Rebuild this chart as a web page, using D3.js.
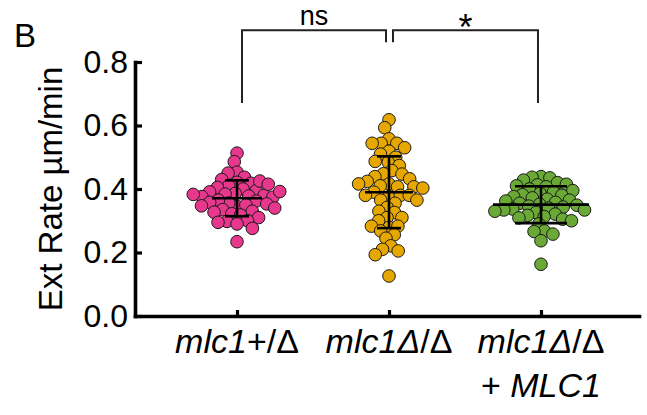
<!DOCTYPE html>
<html>
<head>
<meta charset="utf-8">
<script src="https://cdn.jsdelivr.net/npm/d3@7"></script>
<style>
  body { margin: 0; background: #fff; }
  svg { display: block; }
  text { font-family: "Liberation Sans", Arial, Helvetica, sans-serif; fill: #000; }
</style>
</head>
<body>
<svg id="chart" width="647" height="415"></svg>
<script>
// Extension rate (µm/min) per genotype
const categories = ["het", "del", "rescue"];

const heterozygoteRates = [
  0.513, 0.486, 0.453, 0.450, 0.437, 0.430, 0.421, 0.418, 0.410, 0.405,
  0.400, 0.395, 0.391, 0.386, 0.384, 0.380, 0.378, 0.376, 0.374, 0.425,
  0.345, 0.415, 0.383, 0.356, 0.392, 0.365, 0.362, 0.358, 0.353, 0.350,
  0.347, 0.340, 0.335, 0.330, 0.327, 0.322, 0.318, 0.310, 0.300, 0.298,
  0.295, 0.290, 0.276, 0.234
];

const deletionRates = [
  0.618, 0.593, 0.558, 0.544, 0.544, 0.544, 0.530, 0.519, 0.510, 0.500,
  0.484, 0.487, 0.474, 0.458, 0.448, 0.447, 0.439, 0.432, 0.416, 0.424,
  0.410, 0.407, 0.407, 0.416, 0.403, 0.390, 0.376, 0.380, 0.380, 0.380,
  0.365, 0.365, 0.355, 0.342, 0.326, 0.330, 0.310, 0.310, 0.300, 0.279,
  0.283, 0.283, 0.268, 0.256, 0.245, 0.221, 0.210, 0.205, 0.193, 0.126
];

const rescueRates = [
  0.439, 0.437, 0.435, 0.428, 0.420, 0.415, 0.413, 0.410, 0.407, 0.400,
  0.395, 0.390, 0.386, 0.382, 0.380, 0.376, 0.372, 0.368, 0.365, 0.362,
  0.358, 0.355, 0.352, 0.349, 0.346, 0.343, 0.340, 0.337, 0.334, 0.334,
  0.330, 0.326, 0.321, 0.317, 0.313, 0.309, 0.305, 0.300, 0.290, 0.268,
  0.266, 0.258, 0.237, 0.163
];

const yTicks = [0.0, 0.2, 0.4, 0.6, 0.8];
const groupColors = ["#E8388E", "#E6A700", "#6AA936"];
const comparisons = [
  { from: 0, to: 1, label: "ns" },
  { from: 1, to: 2, label: "*" }
];

const groups = [heterozygoteRates, deletionRates, rescueRates];

const svg = d3.select("#chart");

const x = d3.scalePoint()
  .domain(categories)
  .range([135, 639])
  .padding(0.658)
  .align(0.51);

const y = d3.scaleLinear()
  .domain([0, 0.8])
  .range([316, 62]);

// Beeswarm placement: each point keeps its value on y and is pushed
// sideways to the nearest free slot.
function swarm(values, spacing) {
  const placed = [];
  values.forEach(v => {
    const py = y(v);
    const near = placed.filter(p => Math.abs(p.y - py) < spacing);
    const candidates = [0];
    near.forEach(p => {
      const dx = Math.sqrt(spacing * spacing - (p.y - py) * (p.y - py));
      candidates.push(p.x + dx, p.x - dx);
    });
    candidates.sort((a, b) => Math.abs(a) - Math.abs(b) || a - b);
    const free = candidates.find(c =>
      near.every(p => (p.x - c) ** 2 + (p.y - py) ** 2 >= spacing * spacing - 1e-6)
    );
    placed.push({ x: free, y: py, v });
  });
  return placed;
}

const radius = 6.3;
const spacing = 9;

groups.forEach((vals, gi) => {
  const cx = x(categories[gi]);
  const pts = swarm(vals, spacing);
  svg.append("g")
    .selectAll("circle")
    .data(pts)
    .join("circle")
    .attr("cx", d => cx + d.x)
    .attr("cy", d => d.y)
    .attr("r", radius)
    .attr("fill", groupColors[gi])
    .attr("stroke", "#1a1a1a")
    .attr("stroke-width", 1);
});

// Mean ± SD bars
const barWidths = [
  { cap: 24, mean: 50 },
  { cap: 24, mean: 48 },
  { cap: 52, mean: 96 }
];
groups.forEach((vals, gi) => {
  const cx = x(categories[gi]);
  const m = d3.mean(vals);
  const sd = d3.deviation(vals);
  const g = svg.append("g")
    .attr("stroke", "#000")
    .attr("stroke-width", 2.6);
  const w = barWidths[gi];
  g.append("line").attr("x1", cx).attr("x2", cx).attr("y1", y(m + sd)).attr("y2", y(m - sd));
  g.append("line").attr("x1", cx - w.cap / 2).attr("x2", cx + w.cap / 2).attr("y1", y(m + sd)).attr("y2", y(m + sd));
  g.append("line").attr("x1", cx - w.cap / 2).attr("x2", cx + w.cap / 2).attr("y1", y(m - sd)).attr("y2", y(m - sd));
  g.append("line").attr("x1", cx - w.mean / 2).attr("x2", cx + w.mean / 2).attr("y1", y(m)).attr("y2", y(m));
});

// Axes
const yAxis = svg.append("g")
  .attr("transform", `translate(${x.range()[0]},0)`)
  .call(d3.axisLeft(y)
    .tickValues(yTicks)
    .tickFormat(d3.format(".1f"))
    .tickSize(-7)
    .tickSizeOuter(0)
    .tickPadding(7));

const xAxis = svg.append("g")
  .attr("transform", `translate(0,${y(0)})`)
  .call(d3.axisBottom(x)
    .tickSize(-6)
    .tickSizeOuter(0)
    .tickFormat(""));

[yAxis, xAxis].forEach(a => {
  a.select(".domain").attr("stroke", "#000").attr("stroke-width", 3.6).attr("stroke-linecap", "square");
  a.selectAll(".tick line").attr("stroke", "#000").attr("stroke-width", 3.2);
});
yAxis.selectAll(".tick text")
  .attr("font-size", 32)
  .attr("fill", "#000")
  .attr("font-family", "'Liberation Sans', Arial, sans-serif");

// Category labels
const labelParts = [
  [[{ t: "mlc1", it: true }, { t: "+/Δ", it: false }]],
  [[{ t: "mlc1Δ", it: true }, { t: "/Δ", it: false }]],
  [[{ t: "mlc1Δ", it: true }, { t: "/Δ", it: false }],
   [{ t: "+ ", it: false }, { t: "MLC1", it: true }]]
];
labelParts.forEach((lines, gi) => {
  lines.forEach((parts, li) => {
    const t = svg.append("text")
      .attr("x", x(categories[gi]))
      .attr("y", 353 + li * 44)
      .attr("text-anchor", "middle")
      .attr("font-size", 34);
    parts.forEach(p => {
      t.append("tspan").text(p.t).attr("font-style", p.it ? "italic" : "normal");
    });
  });
});

// Axis title
svg.append("text")
  .attr("transform", `translate(62,${(y(0) + y(0.8)) / 2}) rotate(-90)`)
  .attr("text-anchor", "middle")
  .attr("font-size", 33)
  .text("Ext Rate µm/min");

// Panel letter
svg.append("text")
  .attr("x", 14)
  .attr("y", 47)
  .attr("font-size", 33)
  .text("B");

// Significance brackets
const bracketTop = 0.90, legLong = 0.671, legShort = 0.862;
comparisons.forEach((c, i) => {
  const x1 = x(categories[c.from]) + (i === 0 ? 5 : 4);
  const x2 = x(categories[c.to]) - 3;
  const leftLeg = i === 0 ? legLong : legShort;
  const rightLeg = i === 0 ? legShort : legLong;
  svg.append("path")
    .attr("d", `M${x1},${y(leftLeg)} V${y(bracketTop)} H${x2} V${y(rightLeg)}`)
    .attr("fill", "none")
    .attr("stroke", "#222")
    .attr("stroke-width", 2);
  const lbl = svg.append("text")
    .attr("x", (x1 + x2) / 2)
    .attr("text-anchor", "middle")
    .text(c.label);
  if (c.label === "*") {
    lbl.attr("y", y(bracketTop) + 10).attr("font-size", 36);
  } else {
    lbl.attr("y", y(bracketTop) - 5).attr("font-size", 27);
  }
});
</script>
</body>
</html>
